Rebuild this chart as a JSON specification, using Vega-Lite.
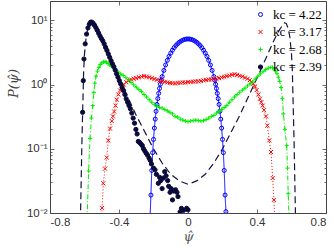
{
  "$schema": "https://vega.github.io/schema/vega-lite/v6.json",
  "width": 276,
  "height": 212,
  "autosize": {"type": "none"},
  "padding": {"left": 50, "top": 1, "right": 8, "bottom": 35},
  "background": "white",
  "config": {
    "view": {"stroke": "#444", "strokeWidth": 1},
    "font": "Liberation Sans",
    "axis": {"domain": false, "grid": false, "labelFont": "Liberation Sans", "labelFontSize": 11, "labelColor": "#333", "tickColor": "#444", "tickWidth": 0.8}
  },
  "datasets": {
    "theory": [
      {"x": -0.625, "p": 0.005}, {"x": -0.62, "p": 0.025}, {"x": -0.615, "p": 0.126}, {"x": -0.61, "p": 0.45}, {"x": -0.605, "p": 1.6}, {"x": -0.6, "p": 3.0}, {"x": -0.59, "p": 5.6}, {"x": -0.58, "p": 7.6}, {"x": -0.57, "p": 8.9}, {"x": -0.56, "p": 9.2}, {"x": -0.55, "p": 8.5}, {"x": -0.53, "p": 7.1}, {"x": -0.5, "p": 5.0}, {"x": -0.45, "p": 2.51}, {"x": -0.4, "p": 1.26}, {"x": -0.35, "p": 0.646}, {"x": -0.3, "p": 0.331}, {"x": -0.25, "p": 0.182}, {"x": -0.2, "p": 0.1}, {"x": -0.15, "p": 0.06}, {"x": -0.1, "p": 0.04}, {"x": -0.05, "p": 0.0316}, {"x": 0, "p": 0.028},
      {"x": 0.05, "p": 0.0316}, {"x": 0.1, "p": 0.04}, {"x": 0.15, "p": 0.06}, {"x": 0.2, "p": 0.1}, {"x": 0.25, "p": 0.182}, {"x": 0.3, "p": 0.331}, {"x": 0.35, "p": 0.646}, {"x": 0.4, "p": 1.26}, {"x": 0.45, "p": 2.51}, {"x": 0.5, "p": 5.0}, {"x": 0.53, "p": 7.1}, {"x": 0.55, "p": 8.5}, {"x": 0.56, "p": 9.2}, {"x": 0.57, "p": 8.9}, {"x": 0.58, "p": 7.6}, {"x": 0.59, "p": 5.6}, {"x": 0.6, "p": 3.0}, {"x": 0.605, "p": 1.6}, {"x": 0.61, "p": 0.45}, {"x": 0.615, "p": 0.126}, {"x": 0.62, "p": 0.025}, {"x": 0.625, "p": 0.005}
    ],
    "obs": [
      {"k": "kc = 4.22", "x": -0.222, "p": 0.006}, {"k": "kc = 4.22", "x": -0.215, "p": 0.019}, {"k": "kc = 4.22", "x": -0.21, "p": 0.046}, {"k": "kc = 4.22", "x": -0.205, "p": 0.087}, {"k": "kc = 4.22", "x": -0.2, "p": 0.14}, {"k": "kc = 4.22", "x": -0.195, "p": 0.21}, {"k": "kc = 4.22", "x": -0.19, "p": 0.29}, {"k": "kc = 4.22", "x": -0.185, "p": 0.384}, {"k": "kc = 4.22", "x": -0.18, "p": 0.49}, {"k": "kc = 4.22", "x": -0.175, "p": 0.605}, {"k": "kc = 4.22", "x": -0.17, "p": 0.73}, {"k": "kc = 4.22", "x": -0.165, "p": 0.87}, {"k": "kc = 4.22", "x": -0.16, "p": 1.01}, {"k": "kc = 4.22", "x": -0.155, "p": 1.17}, {"k": "kc = 4.22", "x": -0.15, "p": 1.33}, {"k": "kc = 4.22", "x": -0.14, "p": 1.66}, {"k": "kc = 4.22", "x": -0.13, "p": 2.02}, {"k": "kc = 4.22", "x": -0.12, "p": 2.38}, {"k": "kc = 4.22", "x": -0.11, "p": 2.74}, {"k": "kc = 4.22", "x": -0.1, "p": 3.09}, {"k": "kc = 4.22", "x": -0.09, "p": 3.43}, {"k": "kc = 4.22", "x": -0.08, "p": 3.76}, {"k": "kc = 4.22", "x": -0.07, "p": 4.06}, {"k": "kc = 4.22", "x": -0.06, "p": 4.33}, {"k": "kc = 4.22", "x": -0.05, "p": 4.56}, {"k": "kc = 4.22", "x": -0.04, "p": 4.76}, {"k": "kc = 4.22", "x": -0.03, "p": 4.92}, {"k": "kc = 4.22", "x": -0.02, "p": 5.04}, {"k": "kc = 4.22", "x": -0.01, "p": 5.11}, {"k": "kc = 4.22", "x": 0, "p": 5.13},
      {"k": "kc = 4.22", "x": 0.01, "p": 5.11}, {"k": "kc = 4.22", "x": 0.02, "p": 5.04}, {"k": "kc = 4.22", "x": 0.03, "p": 4.92}, {"k": "kc = 4.22", "x": 0.04, "p": 4.76}, {"k": "kc = 4.22", "x": 0.05, "p": 4.56}, {"k": "kc = 4.22", "x": 0.06, "p": 4.33}, {"k": "kc = 4.22", "x": 0.07, "p": 4.06}, {"k": "kc = 4.22", "x": 0.08, "p": 3.76}, {"k": "kc = 4.22", "x": 0.09, "p": 3.43}, {"k": "kc = 4.22", "x": 0.1, "p": 3.09}, {"k": "kc = 4.22", "x": 0.11, "p": 2.74}, {"k": "kc = 4.22", "x": 0.12, "p": 2.38}, {"k": "kc = 4.22", "x": 0.13, "p": 2.02}, {"k": "kc = 4.22", "x": 0.14, "p": 1.66}, {"k": "kc = 4.22", "x": 0.15, "p": 1.33}, {"k": "kc = 4.22", "x": 0.155, "p": 1.17}, {"k": "kc = 4.22", "x": 0.16, "p": 1.01}, {"k": "kc = 4.22", "x": 0.165, "p": 0.87}, {"k": "kc = 4.22", "x": 0.17, "p": 0.73}, {"k": "kc = 4.22", "x": 0.175, "p": 0.605}, {"k": "kc = 4.22", "x": 0.18, "p": 0.49}, {"k": "kc = 4.22", "x": 0.185, "p": 0.384}, {"k": "kc = 4.22", "x": 0.19, "p": 0.29}, {"k": "kc = 4.22", "x": 0.195, "p": 0.21}, {"k": "kc = 4.22", "x": 0.2, "p": 0.14}, {"k": "kc = 4.22", "x": 0.205, "p": 0.087}, {"k": "kc = 4.22", "x": 0.21, "p": 0.046}, {"k": "kc = 4.22", "x": 0.215, "p": 0.019}, {"k": "kc = 4.22", "x": 0.22, "p": 0.0105}, {"k": "kc = 4.22", "x": 0.225, "p": 0.004},

      {"k": "kc = 3.17", "x": -0.505, "p": 0.005}, {"k": "kc = 3.17", "x": -0.498, "p": 0.012}, {"k": "kc = 3.17", "x": -0.491, "p": 0.029}, {"k": "kc = 3.17", "x": -0.481, "p": 0.049}, {"k": "kc = 3.17", "x": -0.471, "p": 0.073}, {"k": "kc = 3.17", "x": -0.462, "p": 0.135}, {"k": "kc = 3.17", "x": -0.452, "p": 0.206}, {"k": "kc = 3.17", "x": -0.442, "p": 0.27}, {"k": "kc = 3.17", "x": -0.435, "p": 0.32}, {"k": "kc = 3.17", "x": -0.428, "p": 0.38}, {"k": "kc = 3.17", "x": -0.42, "p": 0.47}, {"k": "kc = 3.17", "x": -0.413, "p": 0.58}, {"k": "kc = 3.17", "x": -0.404, "p": 0.7}, {"k": "kc = 3.17", "x": -0.394, "p": 0.81}, {"k": "kc = 3.17", "x": -0.384, "p": 0.9}, {"k": "kc = 3.17", "x": -0.372, "p": 1.0}, {"k": "kc = 3.17", "x": -0.358, "p": 1.09}, {"k": "kc = 3.17", "x": -0.344, "p": 1.15}, {"k": "kc = 3.17", "x": -0.33, "p": 1.2}, {"k": "kc = 3.17", "x": -0.315, "p": 1.23}, {"k": "kc = 3.17", "x": -0.3, "p": 1.26}, {"k": "kc = 3.17", "x": -0.285, "p": 1.3}, {"k": "kc = 3.17", "x": -0.27, "p": 1.33}, {"k": "kc = 3.17", "x": -0.255, "p": 1.35}, {"k": "kc = 3.17", "x": -0.24, "p": 1.32}, {"k": "kc = 3.17", "x": -0.225, "p": 1.3}, {"k": "kc = 3.17", "x": -0.21, "p": 1.26}, {"k": "kc = 3.17", "x": -0.195, "p": 1.22}, {"k": "kc = 3.17", "x": -0.18, "p": 1.19}, {"k": "kc = 3.17", "x": -0.165, "p": 1.15}, {"k": "kc = 3.17", "x": -0.15, "p": 1.13}, {"k": "kc = 3.17", "x": -0.135, "p": 1.1}, {"k": "kc = 3.17", "x": -0.12, "p": 1.08}, {"k": "kc = 3.17", "x": -0.105, "p": 1.06}, {"k": "kc = 3.17", "x": -0.09, "p": 1.05}, {"k": "kc = 3.17", "x": -0.075, "p": 1.04}, {"k": "kc = 3.17", "x": -0.06, "p": 1.06}, {"k": "kc = 3.17", "x": -0.045, "p": 1.07}, {"k": "kc = 3.17", "x": -0.03, "p": 1.08}, {"k": "kc = 3.17", "x": -0.015, "p": 1.07}, {"k": "kc = 3.17", "x": 0, "p": 1.09}, {"k": "kc = 3.17", "x": 0.015, "p": 1.1}, {"k": "kc = 3.17", "x": 0.03, "p": 1.11}, {"k": "kc = 3.17", "x": 0.045, "p": 1.12}, {"k": "kc = 3.17", "x": 0.06, "p": 1.12}, {"k": "kc = 3.17", "x": 0.075, "p": 1.14}, {"k": "kc = 3.17", "x": 0.09, "p": 1.16}, {"k": "kc = 3.17", "x": 0.105, "p": 1.18}, {"k": "kc = 3.17", "x": 0.12, "p": 1.2}, {"k": "kc = 3.17", "x": 0.135, "p": 1.2}, {"k": "kc = 3.17", "x": 0.15, "p": 1.21}, {"k": "kc = 3.17", "x": 0.165, "p": 1.23}, {"k": "kc = 3.17", "x": 0.18, "p": 1.26}, {"k": "kc = 3.17", "x": 0.195, "p": 1.29}, {"k": "kc = 3.17", "x": 0.21, "p": 1.32}, {"k": "kc = 3.17", "x": 0.225, "p": 1.35}, {"k": "kc = 3.17", "x": 0.24, "p": 1.38}, {"k": "kc = 3.17", "x": 0.255, "p": 1.42}, {"k": "kc = 3.17", "x": 0.27, "p": 1.45}, {"k": "kc = 3.17", "x": 0.285, "p": 1.41}, {"k": "kc = 3.17", "x": 0.3, "p": 1.37}, {"k": "kc = 3.17", "x": 0.315, "p": 1.33}, {"k": "kc = 3.17", "x": 0.33, "p": 1.28}, {"k": "kc = 3.17", "x": 0.345, "p": 1.23}, {"k": "kc = 3.17", "x": 0.358, "p": 1.17}, {"k": "kc = 3.17", "x": 0.368, "p": 1.1}, {"k": "kc = 3.17", "x": 0.379, "p": 1.03}, {"k": "kc = 3.17", "x": 0.389, "p": 0.93}, {"k": "kc = 3.17", "x": 0.398, "p": 0.82}, {"k": "kc = 3.17", "x": 0.408, "p": 0.7}, {"k": "kc = 3.17", "x": 0.417, "p": 0.6}, {"k": "kc = 3.17", "x": 0.425, "p": 0.53}, {"k": "kc = 3.17", "x": 0.433, "p": 0.47}, {"k": "kc = 3.17", "x": 0.441, "p": 0.4}, {"k": "kc = 3.17", "x": 0.452, "p": 0.32}, {"k": "kc = 3.17", "x": 0.46, "p": 0.23}, {"k": "kc = 3.17", "x": 0.471, "p": 0.135}, {"k": "kc = 3.17", "x": 0.481, "p": 0.089}, {"k": "kc = 3.17", "x": 0.491, "p": 0.035}, {"k": "kc = 3.17", "x": 0.498, "p": 0.016}, {"k": "kc = 3.17", "x": 0.505, "p": 0.006},

      {"k": "kc = 2.68", "x": -0.585, "p": 0.008}, {"k": "kc = 2.68", "x": -0.576, "p": 0.045}, {"k": "kc = 2.68", "x": -0.568, "p": 0.144}, {"k": "kc = 2.68", "x": -0.56, "p": 0.3}, {"k": "kc = 2.68", "x": -0.552, "p": 0.47}, {"k": "kc = 2.68", "x": -0.546, "p": 0.75}, {"k": "kc = 2.68", "x": -0.54, "p": 1.05}, {"k": "kc = 2.68", "x": -0.533, "p": 1.35}, {"k": "kc = 2.68", "x": -0.525, "p": 1.62}, {"k": "kc = 2.68", "x": -0.517, "p": 1.85}, {"k": "kc = 2.68", "x": -0.508, "p": 2.05}, {"k": "kc = 2.68", "x": -0.499, "p": 2.18}, {"k": "kc = 2.68", "x": -0.49, "p": 2.25}, {"k": "kc = 2.68", "x": -0.481, "p": 2.27}, {"k": "kc = 2.68", "x": -0.472, "p": 2.22}, {"k": "kc = 2.68", "x": -0.463, "p": 2.12}, {"k": "kc = 2.68", "x": -0.454, "p": 2.02}, {"k": "kc = 2.68", "x": -0.445, "p": 1.94}, {"k": "kc = 2.68", "x": -0.435, "p": 1.85}, {"k": "kc = 2.68", "x": -0.42, "p": 1.7}, {"k": "kc = 2.68", "x": -0.405, "p": 1.57}, {"k": "kc = 2.68", "x": -0.39, "p": 1.46}, {"k": "kc = 2.68", "x": -0.375, "p": 1.38}, {"k": "kc = 2.68", "x": -0.36, "p": 1.28}, {"k": "kc = 2.68", "x": -0.345, "p": 1.18}, {"k": "kc = 2.68", "x": -0.33, "p": 1.08}, {"k": "kc = 2.68", "x": -0.315, "p": 0.99}, {"k": "kc = 2.68", "x": -0.3, "p": 0.91}, {"k": "kc = 2.68", "x": -0.285, "p": 0.84}, {"k": "kc = 2.68", "x": -0.27, "p": 0.78}, {"k": "kc = 2.68", "x": -0.255, "p": 0.7}, {"k": "kc = 2.68", "x": -0.24, "p": 0.64}, {"k": "kc = 2.68", "x": -0.225, "p": 0.58}, {"k": "kc = 2.68", "x": -0.21, "p": 0.53}, {"k": "kc = 2.68", "x": -0.195, "p": 0.49}, {"k": "kc = 2.68", "x": -0.18, "p": 0.46}, {"k": "kc = 2.68", "x": -0.165, "p": 0.44}, {"k": "kc = 2.68", "x": -0.15, "p": 0.43}, {"k": "kc = 2.68", "x": -0.135, "p": 0.41}, {"k": "kc = 2.68", "x": -0.12, "p": 0.39}, {"k": "kc = 2.68", "x": -0.105, "p": 0.37}, {"k": "kc = 2.68", "x": -0.09, "p": 0.35}, {"k": "kc = 2.68", "x": -0.075, "p": 0.32}, {"k": "kc = 2.68", "x": -0.06, "p": 0.31}, {"k": "kc = 2.68", "x": -0.045, "p": 0.29}, {"k": "kc = 2.68", "x": -0.03, "p": 0.28}, {"k": "kc = 2.68", "x": -0.015, "p": 0.27}, {"k": "kc = 2.68", "x": 0, "p": 0.265}, {"k": "kc = 2.68", "x": 0.015, "p": 0.27}, {"k": "kc = 2.68", "x": 0.03, "p": 0.275}, {"k": "kc = 2.68", "x": 0.045, "p": 0.28}, {"k": "kc = 2.68", "x": 0.06, "p": 0.275}, {"k": "kc = 2.68", "x": 0.075, "p": 0.27}, {"k": "kc = 2.68", "x": 0.09, "p": 0.275}, {"k": "kc = 2.68", "x": 0.105, "p": 0.285}, {"k": "kc = 2.68", "x": 0.12, "p": 0.3}, {"k": "kc = 2.68", "x": 0.135, "p": 0.32}, {"k": "kc = 2.68", "x": 0.15, "p": 0.33}, {"k": "kc = 2.68", "x": 0.165, "p": 0.36}, {"k": "kc = 2.68", "x": 0.18, "p": 0.38}, {"k": "kc = 2.68", "x": 0.195, "p": 0.41}, {"k": "kc = 2.68", "x": 0.21, "p": 0.44}, {"k": "kc = 2.68", "x": 0.225, "p": 0.47}, {"k": "kc = 2.68", "x": 0.24, "p": 0.53}, {"k": "kc = 2.68", "x": 0.255, "p": 0.58}, {"k": "kc = 2.68", "x": 0.27, "p": 0.64}, {"k": "kc = 2.68", "x": 0.285, "p": 0.7}, {"k": "kc = 2.68", "x": 0.3, "p": 0.76}, {"k": "kc = 2.68", "x": 0.315, "p": 0.82}, {"k": "kc = 2.68", "x": 0.33, "p": 0.88}, {"k": "kc = 2.68", "x": 0.345, "p": 0.95}, {"k": "kc = 2.68", "x": 0.36, "p": 1.02}, {"k": "kc = 2.68", "x": 0.375, "p": 1.1}, {"k": "kc = 2.68", "x": 0.39, "p": 1.22}, {"k": "kc = 2.68", "x": 0.405, "p": 1.35}, {"k": "kc = 2.68", "x": 0.42, "p": 1.47}, {"k": "kc = 2.68", "x": 0.435, "p": 1.58}, {"k": "kc = 2.68", "x": 0.45, "p": 1.7}, {"k": "kc = 2.68", "x": 0.465, "p": 1.8}, {"k": "kc = 2.68", "x": 0.48, "p": 1.85}, {"k": "kc = 2.68", "x": 0.49, "p": 1.84}, {"k": "kc = 2.68", "x": 0.5, "p": 1.75}, {"k": "kc = 2.68", "x": 0.508, "p": 1.62}, {"k": "kc = 2.68", "x": 0.516, "p": 1.48}, {"k": "kc = 2.68", "x": 0.524, "p": 1.3}, {"k": "kc = 2.68", "x": 0.532, "p": 1.12}, {"k": "kc = 2.68", "x": 0.54, "p": 0.9}, {"k": "kc = 2.68", "x": 0.547, "p": 0.6}, {"k": "kc = 2.68", "x": 0.553, "p": 0.35}, {"k": "kc = 2.68", "x": 0.562, "p": 0.2}, {"k": "kc = 2.68", "x": 0.572, "p": 0.113}, {"k": "kc = 2.68", "x": 0.577, "p": 0.05}, {"k": "kc = 2.68", "x": 0.581, "p": 0.02}, {"k": "kc = 2.68", "x": 0.586, "p": 0.008},

      {"k": "kc = 2.39", "x": -0.611, "p": 0.37}, {"k": "kc = 2.39", "x": -0.607, "p": 1.15}, {"k": "kc = 2.39", "x": -0.603, "p": 2.5}, {"k": "kc = 2.39", "x": -0.596, "p": 4.3}, {"k": "kc = 2.39", "x": -0.588, "p": 6.1}, {"k": "kc = 2.39", "x": -0.58, "p": 7.6}, {"k": "kc = 2.39", "x": -0.572, "p": 8.7}, {"k": "kc = 2.39", "x": -0.565, "p": 9.3}, {"k": "kc = 2.39", "x": -0.558, "p": 9.4}, {"k": "kc = 2.39", "x": -0.55, "p": 9.0}, {"k": "kc = 2.39", "x": -0.542, "p": 8.4}, {"k": "kc = 2.39", "x": -0.534, "p": 7.7}, {"k": "kc = 2.39", "x": -0.526, "p": 7.0}, {"k": "kc = 2.39", "x": -0.518, "p": 6.3}, {"k": "kc = 2.39", "x": -0.51, "p": 5.7}, {"k": "kc = 2.39", "x": -0.502, "p": 5.2}, {"k": "kc = 2.39", "x": -0.494, "p": 4.8}, {"k": "kc = 2.39", "x": -0.486, "p": 4.3}, {"k": "kc = 2.39", "x": -0.478, "p": 3.8}, {"k": "kc = 2.39", "x": -0.47, "p": 3.4}, {"k": "kc = 2.39", "x": -0.462, "p": 3.0}, {"k": "kc = 2.39", "x": -0.454, "p": 2.65}, {"k": "kc = 2.39", "x": -0.446, "p": 2.35}, {"k": "kc = 2.39", "x": -0.438, "p": 2.1}, {"k": "kc = 2.39", "x": -0.43, "p": 1.9}, {"k": "kc = 2.39", "x": -0.422, "p": 1.68}, {"k": "kc = 2.39", "x": -0.414, "p": 1.47}, {"k": "kc = 2.39", "x": -0.406, "p": 1.3}, {"k": "kc = 2.39", "x": -0.398, "p": 1.15}, {"k": "kc = 2.39", "x": -0.39, "p": 1.02}, {"k": "kc = 2.39", "x": -0.382, "p": 0.9}, {"k": "kc = 2.39", "x": -0.374, "p": 0.81}, {"k": "kc = 2.39", "x": -0.366, "p": 0.7}, {"k": "kc = 2.39", "x": -0.358, "p": 0.6}, {"k": "kc = 2.39", "x": -0.35, "p": 0.53}, {"k": "kc = 2.39", "x": -0.342, "p": 0.47}, {"k": "kc = 2.39", "x": -0.334, "p": 0.42}, {"k": "kc = 2.39", "x": -0.326, "p": 0.36}, {"k": "kc = 2.39", "x": -0.318, "p": 0.3}, {"k": "kc = 2.39", "x": -0.31, "p": 0.25}, {"k": "kc = 2.39", "x": -0.302, "p": 0.2}, {"k": "kc = 2.39", "x": -0.295, "p": 0.17}, {"k": "kc = 2.39", "x": -0.288, "p": 0.13}, {"k": "kc = 2.39", "x": -0.28, "p": 0.125}, {"k": "kc = 2.39", "x": -0.272, "p": 0.118}, {"k": "kc = 2.39", "x": -0.265, "p": 0.112}, {"k": "kc = 2.39", "x": -0.258, "p": 0.1}, {"k": "kc = 2.39", "x": -0.25, "p": 0.092}, {"k": "kc = 2.39", "x": -0.242, "p": 0.085}, {"k": "kc = 2.39", "x": -0.235, "p": 0.08}, {"k": "kc = 2.39", "x": -0.226, "p": 0.072}, {"k": "kc = 2.39", "x": -0.219, "p": 0.066}, {"k": "kc = 2.39", "x": -0.212, "p": 0.058}, {"k": "kc = 2.39", "x": -0.2, "p": 0.05}, {"k": "kc = 2.39", "x": -0.191, "p": 0.047}, {"k": "kc = 2.39", "x": -0.183, "p": 0.04}, {"k": "kc = 2.39", "x": -0.172, "p": 0.029}, {"k": "kc = 2.39", "x": -0.165, "p": 0.036}, {"k": "kc = 2.39", "x": -0.158, "p": 0.032}, {"k": "kc = 2.39", "x": -0.15, "p": 0.024}, {"k": "kc = 2.39", "x": -0.143, "p": 0.035}, {"k": "kc = 2.39", "x": -0.135, "p": 0.044}, {"k": "kc = 2.39", "x": -0.127, "p": 0.038}, {"k": "kc = 2.39", "x": -0.118, "p": 0.032}, {"k": "kc = 2.39", "x": -0.112, "p": 0.026}, {"k": "kc = 2.39", "x": -0.104, "p": 0.021}, {"k": "kc = 2.39", "x": -0.098, "p": 0.024}, {"k": "kc = 2.39", "x": -0.09, "p": 0.016}, {"k": "kc = 2.39", "x": -0.083, "p": 0.022}, {"k": "kc = 2.39", "x": -0.072, "p": 0.023}, {"k": "kc = 2.39", "x": -0.064, "p": 0.021}, {"k": "kc = 2.39", "x": -0.058, "p": 0.018}, {"k": "kc = 2.39", "x": -0.046, "p": 0.0104}, {"k": "kc = 2.39", "x": -0.038, "p": 0.0118}, {"k": "kc = 2.39", "x": -0.026, "p": 0.011}, {"k": "kc = 2.39", "x": -0.008, "p": 0.0118}, {"k": "kc = 2.39", "x": 0.0, "p": 0.0112}
    ]
  },
  "layer": [
    {
      "encoding": {
        "x": {"field": "x", "type": "quantitative", "scale": {"domain": [-0.8, 0.8], "nice": false, "zero": false},
          "axis": {"values": [-0.8, -0.4, 0, 0.4, 0.8], "labelExpr": "datum.value == 0 ? '0' : datum.value == -0.8 ? '-0.8' : datum.value == -0.4 ? '-0.4' : datum.value == 0.4 ? '0.4' : '0.8'", "tickSize": -4, "labelPadding": 7, "labelFontSize": 11.5, "title": "ψ̂", "titleFont": "DejaVu Serif", "titleFontStyle": "italic", "titleFontWeight": "normal", "titleFontSize": 13, "titleColor": "#555", "titlePadding": 3}},
        "y": {"field": "p", "type": "quantitative", "scale": {"type": "log", "domain": [0.01, 20], "nice": false},
          "axis": {"values": [0.01, 0.02, 0.03, 0.04, 0.05, 0.06, 0.07, 0.08, 0.09, 0.1, 0.2, 0.3, 0.4, 0.5, 0.6, 0.7, 0.8, 0.9, 1, 2, 3, 4, 5, 6, 7, 8, 9, 10, 20],
            "labelExpr": "datum.value == 10 ? '10¹' : datum.value == 1 ? '10⁰' : datum.value == 0.1 ? '10⁻¹' : datum.value == 0.01 ? '10⁻²' : ''",
            "labelOverlap": false, "labelBound": false, "labelFontSize": 11.5,
            "tickSize": {"condition": {"test": "datum.value == 10 || datum.value == 1 || datum.value == 0.1 || datum.value == 0.01", "value": -4}, "value": -2},
            "labelPadding": 7, "title": "P(ψ̂)", "titleFont": "DejaVu Serif", "titleFontStyle": "italic", "titleFontWeight": "normal", "titleFontSize": 13, "titleColor": "#444", "titleX": -37, "titleY": 82, "titleBaseline": "middle", "titleAlign": "center"}}
      },
      "layer": [
        {"data": {"name": "theory"}, "mark": {"type": "line", "color": "#15153f", "strokeDash": [7, 4], "strokeWidth": 1.2, "clip": true}},
        {"data": {"name": "obs"}, "transform": [{"filter": "datum.k != 'kc = 2.39'"}],
          "mark": {"type": "line", "strokeWidth": 1, "clip": true},
          "encoding": {
            "color": {"field": "k", "type": "nominal", "scale": {"domain": ["kc = 4.22", "kc = 3.17", "kc = 2.68"], "range": ["#0000ff", "#ff0000", "#00ee00"]}, "legend": null},
            "strokeDash": {"field": "k", "type": "nominal", "scale": {"domain": ["kc = 4.22", "kc = 3.17", "kc = 2.68"], "range": [[1, 0], [1, 2], [5, 2, 1, 2]]}, "legend": null}
          }},
        {"data": {"name": "obs"},
          "mark": {"type": "point", "opacity": 1, "strokeWidth": 1, "clip": true},
          "encoding": {
            "stroke": {"field": "k", "type": "nominal", "scale": {"domain": ["kc = 4.22", "kc = 3.17", "kc = 2.68", "kc = 2.39"], "range": ["#0000ff", "#ff0000", "#00ee00", "#0b0b3b"]},
              "legend": {"orient": "none", "legendX": 204, "legendY": 7, "title": null, "labelFont": "Liberation Serif", "labelFontSize": 13, "labelColor": "#000", "symbolStrokeWidth": 1, "rowPadding": 3.5, "labelOffset": 6}},
            "fill": {"field": "k", "type": "nominal", "scale": {"domain": ["kc = 4.22", "kc = 3.17", "kc = 2.68", "kc = 2.39"], "range": ["transparent", "transparent", "transparent", "#0b0b3b"]}},
            "shape": {"field": "k", "type": "nominal", "scale": {"domain": ["kc = 4.22", "kc = 3.17", "kc = 2.68", "kc = 2.39"], "range": ["circle", "M-1,-1L1,1M-1,1L1,-1", "M-1,0L1,0M0,-1L0,1", "circle"]}},
            "size": {"field": "k", "type": "nominal", "scale": {"domain": ["kc = 4.22", "kc = 3.17", "kc = 2.68", "kc = 2.39"], "range": [16, 18, 24, 28]}}
          }}
      ]
    },
    {
      "data": {"name": "theory"},
      "mark": {"type": "line", "opacity": 0},
      "encoding": {
        "x": {"field": "x", "type": "quantitative", "scale": {"domain": [-0.8, 0.8], "nice": false, "zero": false},
          "axis": {"orient": "top", "values": [-0.8, -0.4, 0, 0.4, 0.8], "labels": false, "tickSize": -4, "title": null}},
        "y": {"field": "p", "type": "quantitative", "scale": {"type": "log", "domain": [0.01, 20], "nice": false},
          "axis": {"orient": "right", "values": [0.01, 0.02, 0.03, 0.04, 0.05, 0.06, 0.07, 0.08, 0.09, 0.1, 0.2, 0.3, 0.4, 0.5, 0.6, 0.7, 0.8, 0.9, 1, 2, 3, 4, 5, 6, 7, 8, 9, 10, 20], "labels": false,
            "tickSize": {"condition": {"test": "datum.value == 10 || datum.value == 1 || datum.value == 0.1 || datum.value == 0.01", "value": -4}, "value": -2}, "title": null}}
      }
    }
  ],
  "resolve": {"scale": {"x": "independent", "y": "independent"}}
}
